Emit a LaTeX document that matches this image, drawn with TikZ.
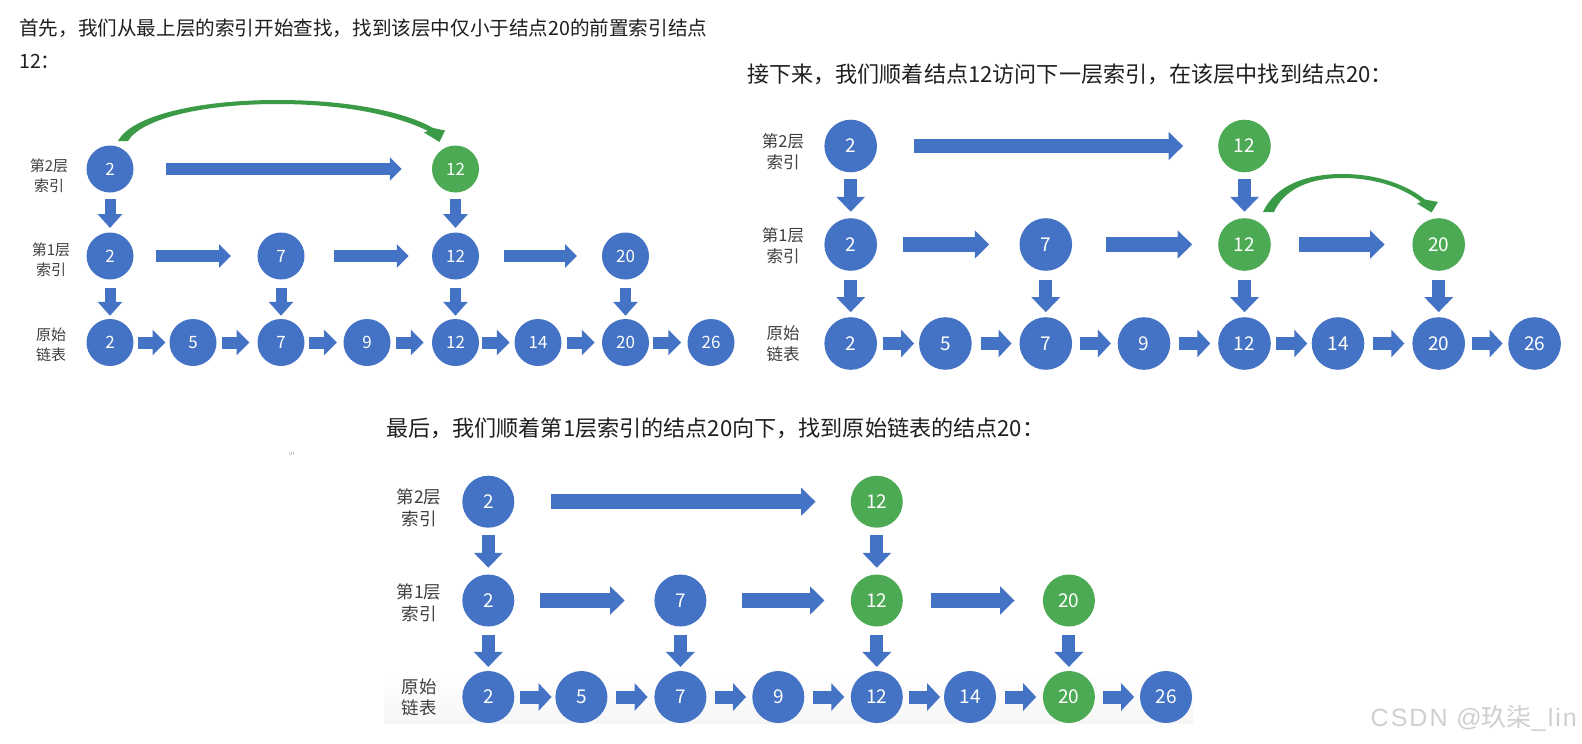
\documentclass[tikz,border=0pt]{standalone}
\usepackage{fontspec}
\setmainfont{Noto Sans CJK SC}
\newfontfamily\wmfont[LetterSpace=8]{Liberation Sans}
\usetikzlibrary{arrows.meta,calc}
\definecolor{nblue}{HTML}{4472C4}
\definecolor{ngreen}{HTML}{4DAA54}
\definecolor{agreen}{HTML}{3B9A45}
\definecolor{txt}{HTML}{1F1F1F}
\definecolor{lbl}{HTML}{3F3F3F}
\newcommand\blk[5][]{\draw[#1] ($(#2)!.5!(#3)!{(#5-#4/2)*1pt}!(#3)$) -- ($(#2)!.5!(#3)!{(#5+#4/2)*1pt}!(#3)$);}
\tikzset{
 nd/.style={circle, inner sep=0pt, text=white},
 nb1/.style={nd, fill=nblue, minimum size=47pt, font=\fontsize{17}{17}\selectfont},
 ng1/.style={nb1, fill=ngreen},
 nb2/.style={nd, fill=nblue, minimum size=52.6pt, font=\fontsize{19}{19}\selectfont},
 ng2/.style={nb2, fill=ngreen},
 nb3/.style={nd, fill=nblue, minimum size=52pt, font=\fontsize{19}{19}\selectfont},
 ng3/.style={nb3, fill=ngreen},
 p1h/.style={nblue, line width=12.5pt, -{Triangle[width=23pt,length=12pt]}},
 p1s/.style={nblue, line width=12pt, -{Triangle[width=25pt,length=13pt]}},
 p1v/.style={nblue, line width=11pt, -{Triangle[width=24pt,length=14pt]}},
 p2h/.style={nblue, line width=14.5pt, -{Triangle[width=27.5pt,length=14.5pt]}},
 p2s/.style={nblue, line width=13pt, -{Triangle[width=27pt,length=13pt]}},
 p2v/.style={nblue, line width=13pt, -{Triangle[width=28pt,length=15pt]}},
 lb1/.style={align=center, text=lbl, inner sep=0pt, font=\fontsize{15}{20}\selectfont},
 lb2/.style={align=center, text=lbl, inner sep=0pt, font=\fontsize{16.5}{21}\selectfont},
 lb3/.style={align=center, text=lbl, inner sep=0pt, font=\fontsize{17.5}{21.6}\selectfont},
 hd1/.style={anchor=west, text=txt, inner sep=0pt, font=\fontsize{19.6}{24}\selectfont},
 hd2/.style={anchor=west, text=txt, inner sep=0pt, font=\fontsize{22.1}{26}\selectfont},
}
\begin{document}
\begin{tikzpicture}[x=1pt,y=-1pt]
\useasboundingbox (0,0) rectangle (1582,744);
\fill[white] (0,0) rectangle (1582,744);
\shade[top color=white, bottom color=gray!7] (384,672) rectangle (1193,723);

% headings
\node[hd1] (h1a) at (19,28) {首先，我们从最上层的索引开始查找，找到该层中仅小于结点20的前置索引结点};
\node[hd1] (h1b) at (19,61) {12：};
\node[hd2] (h2) at (747,74) {接下来，我们顺着结点12访问下一层索引，在该层中找到结点20：};
\node[hd2] (h3) at (386,428) {最后，我们顺着第1层索引的结点20向下，找到原始链表的结点20：};
\node[text=gray!70, inner sep=0pt, font=\fontsize{6}{6}\selectfont] (art) at (292,454) {ur};

% ===== panel 1 =====
\node[lb1] (p1l2) at (49,176) {第2层\\索引};
\node[lb1] (p1l1) at (51,259.5) {第1层\\索引};
\node[lb1] (p1l0) at (51,344.5) {原始\\链表};
\node[nb1] (p1a2) at (110,169) {2};
\node[ng1] (p1a12) at (455.5,169) {12};
\node[nb1] (p1b2) at (110,256) {2};
\node[nb1] (p1b7) at (281,256) {7};
\node[nb1] (p1b12) at (455.5,256) {12};
\node[nb1] (p1b20) at (625.5,256) {20};
\foreach \n/\x in {2/110,5/193,7/281,9/367,12/455.5,14/538,20/625.5,26/711}
  \node[nb1] (p1c\n) at (\x,342.5) {\n};
\blk[p1h]{p1a2}{p1a12}{236}{1}
\blk[p1h]{p1b2}{p1b7}{75}{-2}
\blk[p1h]{p1b7}{p1b12}{75}{3}
\blk[p1h]{p1b12}{p1b20}{73}{0}
\blk[p1s]{p1c2}{p1c5}{28}{0}
\blk[p1s]{p1c5}{p1c7}{28}{-1.5}
\blk[p1s]{p1c7}{p1c9}{28}{-1}
\blk[p1s]{p1c9}{p1c12}{28}{-1.5}
\blk[p1s]{p1c12}{p1c14}{28}{-1}
\blk[p1s]{p1c14}{p1c20}{28}{-1}
\blk[p1s]{p1c20}{p1c26}{28}{-1}
\blk[p1v]{p1a2}{p1b2}{29}{1}
\blk[p1v]{p1a12}{p1b12}{29}{1}
\blk[p1v]{p1b2}{p1c2}{28}{2.5}
\blk[p1v]{p1b7}{p1c7}{28}{2.5}
\blk[p1v]{p1b12}{p1c12}{28}{2.5}
\blk[p1v]{p1b20}{p1c20}{28}{2.5}
\begin{scope}[shift={(p1a2)}]
\fill[agreen] (8,-28) .. controls (22,-54) and (90,-69) .. (167,-69) .. controls (240,-69) and (295,-57) .. (323,-41) -- (335,-38.5) -- (329.5,-27) -- (314,-36.5) -- (318,-38) .. controls (290,-52) and (240,-65) .. (167,-65) .. controls (95,-65) and (32,-51) .. (18,-28) -- cycle;
\end{scope}

% ===== panel 2 =====
\node[lb2] (p2l2) at (783,152) {第2层\\索引};
\node[lb2] (p2l1) at (783,245.5) {第1层\\索引};
\node[lb2] (p2l0) at (783,344) {原始\\链表};
\node[nb2] (p2a2) at (850.7,146) {2};
\node[ng2] (p2a12) at (1244.5,146) {12};
\node[nb2] (p2b2) at (850.7,244.5) {2};
\node[nb2] (p2b7) at (1045.8,244.5) {7};
\node[ng2] (p2b12) at (1244.5,244.5) {12};
\node[ng2] (p2b20) at (1438.7,244.5) {20};
\foreach \n/\x in {2/850.7,5/945.4,7/1045.8,9/1144,12/1244.5,14/1338,20/1438.7,26/1534.6}
  \node[nb2] (p2c\n) at (\x,343.5) {\n};
\blk[p2h]{p2a2}{p2a12}{269}{1}
\blk[p2h]{p2b2}{p2b7}{86}{-2}
\blk[p2h]{p2b7}{p2b12}{86}{4}
\blk[p2h]{p2b12}{p2b20}{86}{0}
\blk[p2s]{p2c2}{p2c5}{31}{0.5}
\blk[p2s]{p2c5}{p2c7}{31}{0.5}
\blk[p2s]{p2c7}{p2c9}{31}{0.5}
\blk[p2s]{p2c9}{p2c12}{31}{0.5}
\blk[p2s]{p2c12}{p2c14}{31}{0.5}
\blk[p2s]{p2c14}{p2c20}{31}{0.5}
\blk[p2s]{p2c20}{p2c26}{31}{0.5}
\blk[p2v]{p2a2}{p2b2}{32.4}{0.3}
\blk[p2v]{p2a12}{p2b12}{32.4}{0.3}
\blk[p2v]{p2b2}{p2c2}{32.3}{2}
\blk[p2v]{p2b7}{p2c7}{32.3}{2}
\blk[p2v]{p2b12}{p2c12}{32.3}{2}
\blk[p2v]{p2b20}{p2c20}{32.3}{2}
\begin{scope}[shift={(p2b12)}]
\fill[agreen] (18.5,-32.5) .. controls (30.5,-58.5) and (60.5,-70.5) .. (97.5,-70.5) .. controls (135.5,-70.5) and (163.5,-58.5) .. (180.5,-45) -- (193.5,-42.5) -- (187,-32) -- (172.5,-41) -- (176.5,-42.5) .. controls (160.5,-55.5) and (133.5,-66.5) .. (97.5,-66.5) .. controls (65.5,-66.5) and (39.5,-55.5) .. (29.5,-32.5) -- cycle;
\end{scope}

% ===== panel 3 =====
\node[lb3] (p3l2) at (419,507.5) {第2层\\索引};
\node[lb3] (p3l1) at (419,602.5) {第1层\\索引};
\node[lb3] (p3l0) at (419,697.5) {原始\\链表};
\node[nb3] (p3a2) at (488.3,501.7) {2};
\node[ng3] (p3a12) at (876.8,501.7) {12};
\node[nb3] (p3b2) at (488.3,600.5) {2};
\node[nb3] (p3b7) at (680.4,600.5) {7};
\node[ng3] (p3b12) at (876.8,600.5) {12};
\node[ng3] (p3b20) at (1068.9,600.5) {20};
\foreach \n/\x in {2/488.3,5/581.4,7/680.4,9/778.3,12/876.8,14/970}
  \node[nb3] (p3c\n) at (\x,697) {\n};
\node[ng3] (p3c20) at (1068.9,697) {20};
\node[nb3] (p3c26) at (1166,697) {26};
\blk[p2h]{p3a2}{p3a12}{265}{0.5}
\blk[p2h]{p3b2}{p3b7}{84.7}{-2}
\blk[p2h]{p3b7}{p3b12}{83}{4.4}
\blk[p2h]{p3b12}{p3b20}{83.4}{0}
\blk[p2s]{p3c2}{p3c5}{31.4}{1}
\blk[p2s]{p3c5}{p3c7}{31.4}{1}
\blk[p2s]{p3c7}{p3c9}{31.4}{1}
\blk[p2s]{p3c9}{p3c12}{31.4}{1}
\blk[p2s]{p3c12}{p3c14}{31.4}{1}
\blk[p2s]{p3c14}{p3c20}{31.4}{1}
\blk[p2s]{p3c20}{p3c26}{31.4}{1}
\blk[p2v]{p3a2}{p3b2}{32.7}{0.3}
\blk[p2v]{p3a12}{p3b12}{32.7}{0.3}
\blk[p2v]{p3b2}{p3c2}{32.4}{2}
\blk[p2v]{p3b7}{p3c7}{32.4}{2}
\blk[p2v]{p3b12}{p3c12}{32.4}{2}
\blk[p2v]{p3b20}{p3c20}{32.4}{2}

% watermark
\node[anchor=east, text=gray!38, inner sep=0pt, font=\fontsize{25}{25}\selectfont] (wm) at (1577,718) {{\wmfont CSDN @}玖柒{\wmfont\_lin}};
\end{tikzpicture}
\end{document}
